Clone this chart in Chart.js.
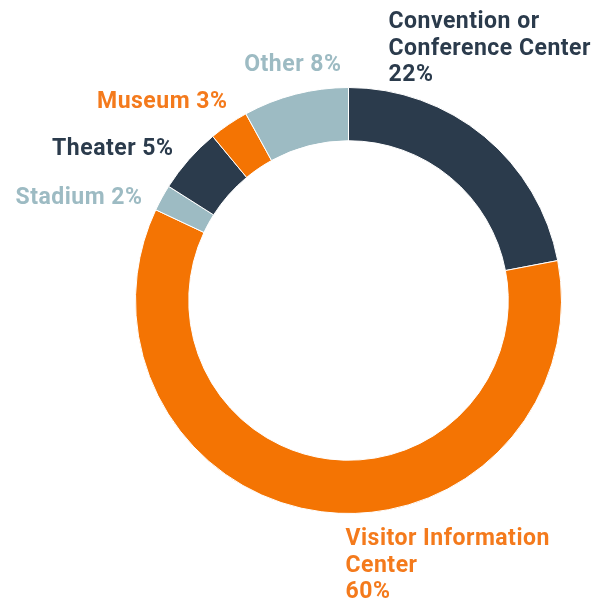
<!DOCTYPE html>
<html>
<head>
<meta charset="utf-8">
<script src="https://cdn.jsdelivr.net/npm/chart.js@4"></script>
<style>
  html, body { margin: 0; padding: 0; background: #fff; }
  #wrap { width: 613px; height: 602px; position: relative; }
</style>
</head>
<body>
<div id="wrap"><canvas id="myChart"></canvas></div>
<script>
const categories = ['Convention or Conference Center', 'Visitor Information Center', 'Stadium', 'Theater', 'Museum', 'Other'];
const shares = [22, 60, 2, 5, 3, 8];
const sliceColors = ['#2b3b4c', '#f47403', '#9dbbc3', '#2b3b4c', '#f47403', '#9dbbc3'];
const labelColors = ['#2b3b4c', '#f47a1c', '#9dbbc3', '#2b3b4c', '#f47a1c', '#9dbbc3'];
const labelLines = [
    ['Convention or', 'Conference Center', '22%'],
    ['Visitor Information', 'Center', '60%'],
    ['Stadium 2%'],
    ['Theater 5%'],
    ['Museum 3%'],
    ['Other 8%']
];

// label anchors, offset from the doughnut centre (align, dx, dy of first line)
const labelPlace = [
    { align: 'left', dx: 40, dy: -279 },
    { align: 'left', dx: -3, dy: 238 },
    { align: 'right', dx: -206, dy: -103 },
    { align: 'right', dx: -175, dy: -152 },
    { align: 'right', dx: -121, dy: -199 },
    { align: 'right', dx: -7, dy: -236 }
];

const sliceLabels = {
    id: 'sliceLabels',
    afterDraw(chart) {
        const ctx = chart.ctx;
        const arc = chart.getDatasetMeta(0).data[0];
        const cx = arc.x, cy = arc.y;
        ctx.save();
        ctx.font = 'bold 23px Roboto';
        ctx.letterSpacing = '0.5px';
        ctx.textBaseline = 'middle';
        labelLines.forEach((lines, i) => {
            const p = labelPlace[i];
            ctx.fillStyle = labelColors[i];
            ctx.textAlign = p.align;
            lines.forEach((line, j) => {
                ctx.fillText(line, cx + p.dx, cy + p.dy + 1 + j * 26.5);
            });
        });
        ctx.restore();
    }
};

new Chart(document.getElementById('myChart').getContext('2d'), {
    type: 'doughnut',
    data: {
        labels: categories,
        datasets: [{
            data: shares,
            backgroundColor: sliceColors,
            borderColor: '#ffffff',
            borderWidth: 1
        }]
    },
    options: {
        responsive: true,
        maintainAspectRatio: false,
        animation: false,
        cutout: '75%',
        layout: {
            padding: { top: 87, bottom: 88, left: 135, right: 51 }
        },
        plugins: {
            legend: { display: false },
            tooltip: { enabled: false }
        }
    },
    plugins: [sliceLabels]
});
</script>
</body>
</html>
